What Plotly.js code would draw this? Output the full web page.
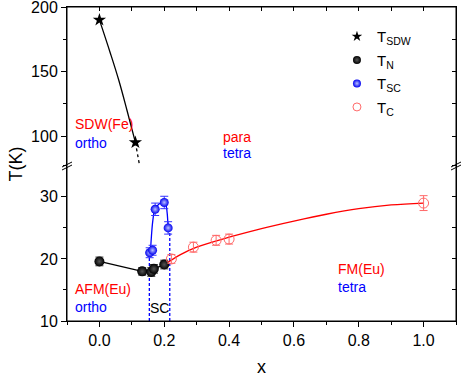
<!DOCTYPE html>
<html><head><meta charset="utf-8">
<script src="https://cdn.plot.ly/plotly-3.0.1.min.js"></script>
<style>html,body{margin:0;padding:0;background:#fff}</style>
</head><body><div id="chart" style="width:463px;height:377px"></div>
<script>
// T_SDW (top panel)
const sdwX = [0.0, 0.111];
const sdwT = [190, 95];
const sdwFitX = [0.0, 0.034, 0.06, 0.085, 0.111];
const sdwFitT = [190, 164, 143, 120, 95];
const sdwExtX = [0.111, 0.124];
const sdwExtT = [95, 77];
// T_N
const nX = [0.0, 0.132, 0.160, 0.168, 0.200];
const nT = [19.6, 18.0, 17.9, 18.4, 19.1];
const nErr = [0.7, 0.6, 0.7, 0.7, 0.7];
// T_SC
const scX = [0.155, 0.164, 0.172, 0.200, 0.212];
const scT = [21.0, 21.4, 28.0, 29.1, 25.0];
const scErr = [0.8, 0.8, 1.0, 1.0, 1.0];
const scFitX = [0.157, 0.1605, 0.1646, 0.1708, 0.183, 0.1965, 0.2047, 0.2088, 0.212];
const scFitT = [20.8, 23.7, 26.1, 27.9, 28.8, 29.2, 28.8, 27.5, 25.0];
// T_C
const cX = [0.222, 0.290, 0.360, 0.400, 1.000];
const cT = [20.0, 21.9, 23.0, 23.2, 29.0];
const cErr = [0.7, 0.8, 0.8, 0.8, 1.2];
const cFitX = [0.207, 0.25, 0.3, 0.4, 0.5, 0.6, 0.7, 0.8, 0.9, 1.0];
const cFitT = [19.3, 20.7, 21.9, 23.5, 24.9, 26.1, 27.2, 28.1, 28.7, 29.0];
// SC dome boundaries
const scB1X = [0.154, 0.154], scB1T = [10, 20.8];
const scB2X = [0.217, 0.217], scB2T = [10, 24.8];

const FONT = 'Liberation Sans, Arial, sans-serif';
const RED = '#ff0000', BLUE = '#0000ff', PINK = '#ff6a6a';

const nMarker = {symbol:'circle', size:10, color:'#000', gradient:{type:'radial', color:'#555'}};
const scMarker = {symbol:'circle', size:9, color:'#0000f0', gradient:{type:'radial', color:'#b8c0ff'}};
const cMarker = {symbol:'circle-open', size:10, color:PINK, line:{width:1}};
const legendOnly = (name, grp, marker) => ({x:[null], y:[null], mode:'markers', name, legendgroup:grp, marker});
const ghost = (x, y, xa, ya) => ({x, y, xaxis:xa, yaxis:ya, mode:'markers', marker:{opacity:0, size:1}, showlegend:false});

const traces = [
  {x: sdwFitX, y: sdwFitT, xaxis:'x', yaxis:'y2', mode:'lines', line:{color:'#000', width:1.3, shape:'spline'}, showlegend:false},
  {x: sdwExtX, y: sdwExtT, xaxis:'x', yaxis:'y2', mode:'lines', line:{color:'#000', width:1.3, dash:'3px,3px'}, showlegend:false},
  {x: scB1X, y: scB1T, mode:'lines', line:{color:BLUE, width:1.3, dash:'3px,2px'}, showlegend:false},
  {x: scB2X, y: scB2T, mode:'lines', line:{color:BLUE, width:1.3, dash:'3px,2px'}, showlegend:false},
  {x: nX, y: nT, mode:'lines', line:{color:'#000', width:1.3}, showlegend:false},
  {x: scFitX, y: scFitT, mode:'lines', line:{color:BLUE, width:1.3, shape:'spline'}, showlegend:false},
  {x: cFitX, y: cFitT, mode:'lines', line:{color:RED, width:1.3, shape:'spline'}, showlegend:false},
  {x: sdwX, y: sdwT, xaxis:'x', yaxis:'y2', mode:'markers', showlegend:false,
   marker:{symbol:'star', size:10, color:'#000'}},
  {x: nX, y: nT, mode:'markers', showlegend:false, marker:nMarker,
   error_y:{type:'data', array:nErr, visible:true, color:'#333', thickness:1, width:4}},
  {x: scX, y: scT, mode:'markers', showlegend:false, marker:scMarker,
   error_y:{type:'data', array:scErr, visible:true, color:'#3333ff', thickness:1, width:4}},
  {x: cX, y: cT, mode:'markers', showlegend:false, marker:cMarker,
   error_y:{type:'data', array:cErr, visible:true, color:PINK, thickness:1, width:4}},
  legendOnly('T<sub>SDW</sub>', 'a', {symbol:'star', size:8, color:'#000'}),
  legendOnly('T<sub>N</sub>', 'b', Object.assign({}, nMarker, {size:8})),
  legendOnly('T<sub>SC</sub>', 'c', Object.assign({}, scMarker, {size:8})),
  legendOnly('T<sub>C</sub>', 'd', Object.assign({}, cMarker, {size:8})),
  // invisible copies so the frame (top / right) axes get a subplot and are drawn
  ghost(sdwX, sdwT, 'x2', 'y2'),
  ghost(nX, nT, 'x', 'y3'),
  ghost(sdwX, sdwT, 'x', 'y4')
];

const axBase = () => ({showline:true, linecolor:'#000', linewidth:1, showgrid:false, zeroline:false,
  tickcolor:'#000', tickfont:{family:FONT, size:16, color:'#000'}});
const frameAx = (extra) => Object.assign({showline:true, linecolor:'#000', linewidth:1, showgrid:false,
  zeroline:false, tickcolor:'#000', ticks:'inside', ticklen:4,
  tickfont:{size:1, color:'rgba(0,0,0,0)'}}, extra);

const shapes = [
  {type:'rect', xref:'paper', yref:'paper', x0:0, x1:1, y0:0, y1:1, line:{color:'#000', width:1}, layer:'above'}
];
[0, 1].forEach(xa => {
  [0, 3].forEach(off => {
    shapes.push({type:'line', xref:'paper', yref:'paper', xsizemode:'pixel', ysizemode:'pixel',
      xanchor:xa, yanchor:0.5, x0:-5, x1:5, y0:-3-off, y1:2-off, line:{color:'#000', width:1}});
  });
});

const ann = (text, x, y, color, yref) => ({text, x, y, xref:'x', yref:yref||'y', xanchor:'left', yanchor:'middle',
  showarrow:false, font:{family:FONT, size:14, color}});

const TOP = [78.3, 200.001], BOT = [10, 35.3];
const layout = {
  width:463, height:377, margin:{l:67, r:7, t:7, b:56},
  paper_bgcolor:'#fff', plot_bgcolor:'rgba(0,0,0,0)', showlegend:true,
  font:{family:FONT, color:'#000'},
  xaxis: Object.assign(axBase(), {domain:[0,1], range:[-0.1,1.1], anchor:'y', tick0:0, dtick:0.2,
    tickformat:'.1f', ticks:'outside', ticklen:5,
    minor:{dtick:0.1, tick0:0, ticks:'outside', ticklen:3, tickcolor:'#000'},
    title:{text:'x', font:{family:FONT, size:18, color:'#000'}, standoff:14}}),
  yaxis: Object.assign(axBase(), {domain:[0,0.5], range:BOT, anchor:'x', tick0:0, dtick:10, mirror:true,
    ticks:'outside', ticklen:5, minor:{dtick:5, tick0:0, ticks:'outside', ticklen:3, tickcolor:'#000'}}),
  yaxis2: Object.assign(axBase(), {domain:[0.5,1], range:TOP, anchor:'x', tick0:0, dtick:50, mirror:true,
    ticks:'outside', ticklen:5, ticklabeloverflow:'allow',
    minor:{dtick:25, tick0:0, ticks:'outside', ticklen:3, tickcolor:'#000'}}),
  xaxis2: frameAx({domain:[0,1], side:'top', anchor:'y2', range:[-0.1,1.1], tick0:0, dtick:0.1}),
  yaxis3: frameAx({domain:[0,0.5], side:'right', anchor:'x', range:BOT, tick0:0, dtick:5}),
  yaxis4: frameAx({domain:[0.5,1], side:'right', anchor:'x', range:TOP, tick0:0, dtick:25}),
  legend:{x:0.694, y:0.958, xanchor:'left', yanchor:'top', bgcolor:'rgba(0,0,0,0)',
    font:{family:FONT, size:15, color:'#000'}, tracegroupgap:1},
  shapes,
  annotations:[
    ann('SDW(Fe)', -0.083, 109, RED, 'y2'),
    ann('ortho', -0.083, 94.6, BLUE, 'y2'),
    ann('para', 0.375, 99, RED, 'y2'),
    ann('tetra', 0.375, 86.6, BLUE, 'y2'),
    ann('AFM(Eu)', -0.083, 15.2, RED),
    ann('ortho', -0.083, 12.2, BLUE),
    {text:'SC', x:0.185, y:12.05, xref:'x', yref:'y', showarrow:false, font:{family:FONT, size:14, color:'#000'}},
    ann('FM(Eu)', 0.73, 18.3, RED),
    ann('tetra', 0.73, 15.4, BLUE),
    {text:'T(K)', xref:'paper', yref:'paper', x:-0.163, y:0.5, textangle:-90, showarrow:false,
     font:{family:FONT, size:18, color:'#000'}}
  ]
};

Plotly.newPlot('chart', traces, layout, {displayModeBar:false})
  .catch(e => console.error('plot error: ' + (e && e.stack || e)));
</script></body></html>
